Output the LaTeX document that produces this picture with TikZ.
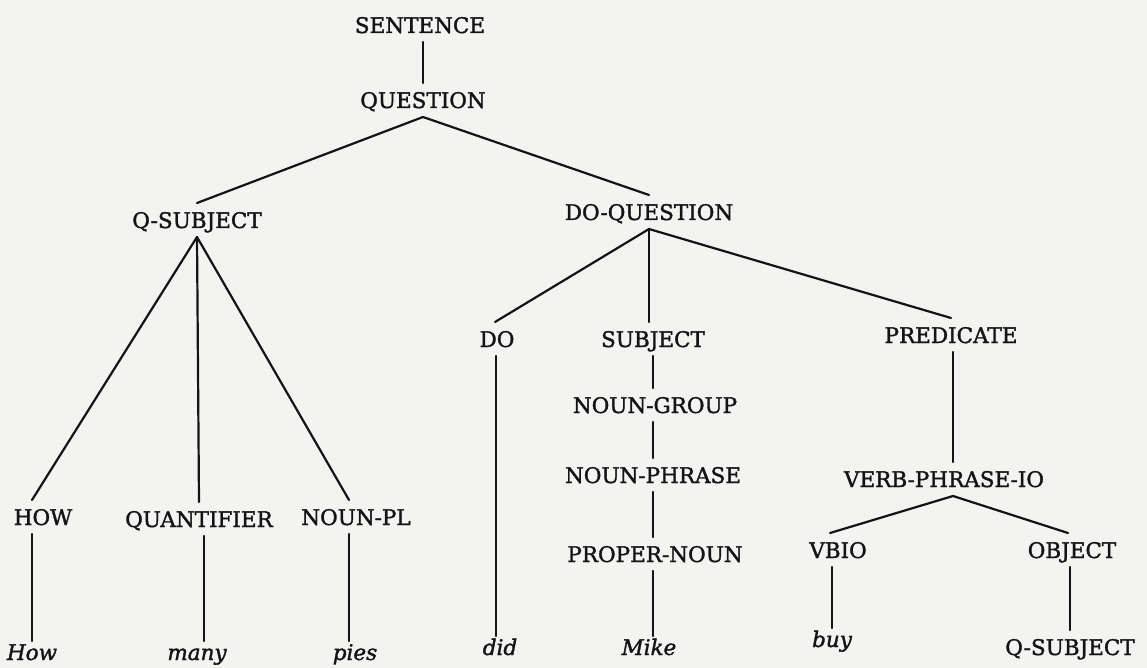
\documentclass[tikz,border=0pt]{standalone}
\usepackage{fontspec}
\setmainfont{DejaVu Serif}
\newfontfamily\labelfont{DejaVu Serif}[FakeBold=1.6]
\definecolor{paper}{RGB}{243,243,241}
\definecolor{ink}{RGB}{20,20,20}
\tikzset{
  cat/.style={anchor=base, inner sep=0pt, outer xsep=0pt, outer ysep=9pt,
    text height=16pt, text depth=0pt, text=ink,
    font=\labelfont\fontsize{21.5}{26}\selectfont},
  word/.style={anchor=base, inner sep=0pt, outer xsep=0pt, outer ysep=6pt,
    text height=13pt, text depth=0pt, text=ink,
    font=\labelfont\fontsize{21.5}{25}\selectfont\itshape},
  branch/.style={draw=ink, line width=2.2pt, line cap=round}
}
\begin{document}
\begin{tikzpicture}[x=1pt, y=-1pt]
  \fill[paper] (0,0) rectangle (1147,668);
  \useasboundingbox (0,0) rectangle (1147,668);

  % top of the tree
  \node[cat] (sent)  at (420,33)  {SENTENCE};
  \node[cat] (quest) at (423,108) {QUESTION};
  \node[cat] (qsub)  at (197,228) {Q-SUBJECT};
  \node[cat] (doq)   at (649,220) {DO-QUESTION};

  % question subject branch
  \node[cat] (how)    at (43,525)  {HOW};
  \node[cat] (quant)  at (199,527) {QUANTIFIER};
  \node[cat] (nounpl) at (356,525) {NOUN-PL};
  \node[word] (w1) at (32,660)  {How};
  \node[word] (w2) at (197,660) {many};
  \node[word] (w3) at (355,660) {pies};

  % do-question branch
  \node[cat] (do)    at (497,347) {DO};
  \node[cat] (subj)  at (653,347) {SUBJECT};
  \node[cat] (pred)  at (951,343) {PREDICATE};
  \node[cat] (ng)    at (655,413) {NOUN-GROUP};
  \node[cat] (np)    at (653,483) {NOUN-PHRASE};
  \node[cat] (pn)    at (655,562) {PROPER-NOUN};
  \node[cat] (vpio)  at (944,487) {VERB-PHRASE-IO};
  \node[cat] (vbio)  at (838,558) {VBIO};
  \node[cat] (obj)   at (1072,558) {OBJECT};
  \node[word] (w4) at (500,655) {did};
  \node[word] (w5) at (649,655) {Mike};
  \node[word] (w6) at (832,647) {buy};
  \node[cat]  (qsl) at (1070,655) {Q-SUBJECT};

  % branches
  \draw[branch] (sent.south -| quest.south) -- (quest.north);
  \draw[branch] (quest.south) -- (qsub.north);
  \draw[branch] (quest.south) -- (doq.north);

  \draw[branch] (qsub.south) -- (how.north -| w1.north);
  \draw[branch] (qsub.south) -- (quant.north);
  \draw[branch] (qsub.south) -- ([xshift=-7pt]nounpl.north);
  \draw[branch] (how.south -| w1.north) -- (w1.north);
  \draw[branch] ([xshift=5pt]quant.south) -- ([xshift=5pt]quant.south |- w2.north);
  \draw[branch] ([xshift=-7pt]nounpl.south) -- ([xshift=-7pt]nounpl.south |- w3.north);

  \draw[branch] (doq.south) -- ([xshift=-2pt]do.north);
  \draw[branch] (doq.south) -- (doq.south |- subj.north);
  \draw[branch] (doq.south) -- (pred.north);
  \draw[branch] ([xshift=-1pt]do.south) -- ([xshift=-1pt]do.south |- w4.north);
  \draw[branch] (subj.south) -- (subj.south |- ng.north);
  \draw[branch] (subj.south |- ng.south) -- (subj.south |- np.north);
  \draw[branch] (np.south) -- (np.south |- pn.north);
  \draw[branch] (np.south |- pn.south) -- (np.south |- w5.north);

  \draw[branch] ([xshift=2pt]pred.south) -- ([xshift=2pt]pred.south |- vpio.north);
  \draw[branch] ([xshift=2pt]pred.south |- vpio.south) -- ([xshift=-8pt]vbio.north);
  \draw[branch] ([xshift=2pt]pred.south |- vpio.south) -- ([xshift=-4pt]obj.north);
  \draw[branch] (vbio.south -| w6.north) -- (w6.north);
  \draw[branch] (obj.south -| qsl.north) -- (qsl.north);
\end{tikzpicture}
\end{document}
